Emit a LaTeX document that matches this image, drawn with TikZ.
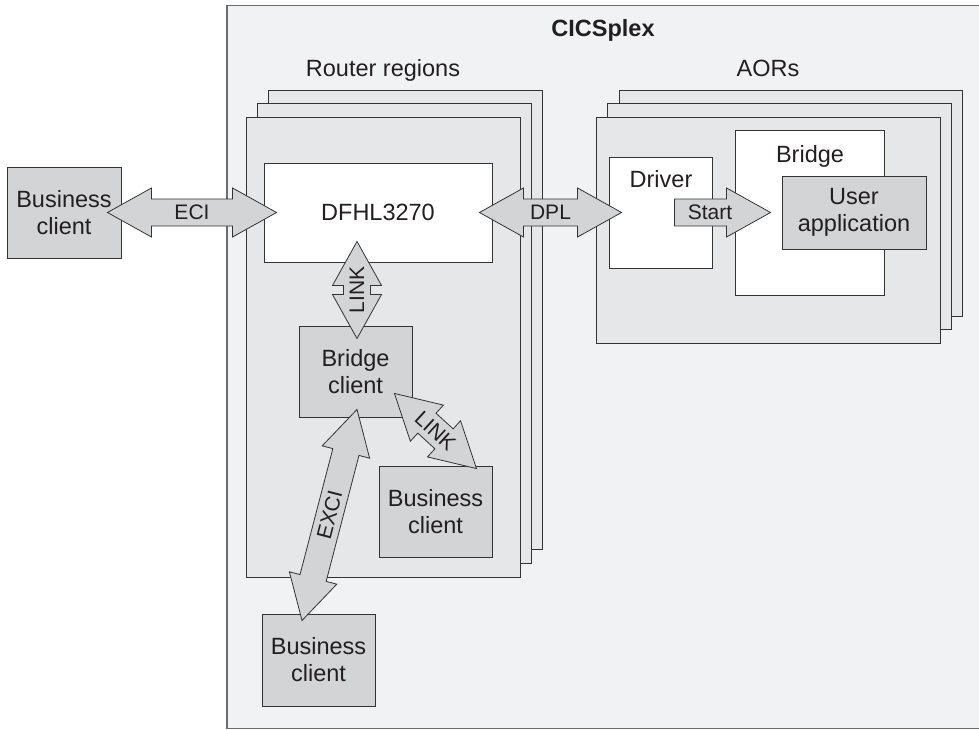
\documentclass[tikz,border=0pt]{standalone}
\usepackage{fontspec}
\setmainfont{Liberation Sans}
\usetikzlibrary{calc}
\definecolor{bgc}{HTML}{F1F2F4}
\definecolor{stackc}{HTML}{E6E7E9}
\definecolor{grayc}{HTML}{D3D4D6}
\definecolor{edge}{HTML}{333333}
\definecolor{outeredge}{HTML}{6B6B6B}
\definecolor{txt}{HTML}{231F20}
\newcommand\boxfont{\fontsize{23.5}{27}\selectfont}
\newcommand\arrfont{\fontsize{21}{24}\selectfont}
\tikzset{
  sz/.style 2 args={minimum width=#1, minimum height=#2},
  region/.style={draw=edge, line width=0.9pt, fill=stackc, inner sep=0pt},
  whitebox/.style={draw=edge, line width=0.9pt, fill=white, inner sep=0pt},
  graybox/.style={draw=edge, line width=0.9pt, fill=grayc, inner sep=0pt, align=center, font=\boxfont, text=txt},
  fatarrow/.style={draw=edge, line width=0.8pt, fill=grayc, line join=miter},
  arrlabel/.style={font=\arrfont, text=txt, inner sep=0pt},
  titletext/.style={font=\boxfont, text=txt, inner sep=0pt, anchor=base}
}
% double-headed fat arrow between two named points
\newcommand\dblarr[2]{%
  \filldraw[fatarrow] (#1)
    -- ($(#1)!44pt!(#2)!24.5pt!90:(#2)$)
    -- ($(#1)!44pt!(#2)!13.5pt!90:(#2)$)
    -- ($(#2)!44pt!(#1)!13.5pt!-90:(#1)$)
    -- ($(#2)!44pt!(#1)!24.5pt!-90:(#1)$)
    -- (#2)
    -- ($(#2)!44pt!(#1)!24.5pt!90:(#1)$)
    -- ($(#2)!44pt!(#1)!13.5pt!90:(#1)$)
    -- ($(#1)!44pt!(#2)!13.5pt!-90:(#2)$)
    -- ($(#1)!44pt!(#2)!24.5pt!-90:(#2)$)
    -- cycle;}
% single-headed fat arrow from #1 (tail) to #2 (tip)
\newcommand\sglarr[2]{%
  \filldraw[fatarrow] ($(#1)!13.5pt!90:(#2)$)
    -- ($(#2)!44pt!(#1)!13.5pt!-90:(#1)$)
    -- ($(#2)!44pt!(#1)!24.5pt!-90:(#1)$)
    -- (#2)
    -- ($(#2)!44pt!(#1)!24.5pt!90:(#1)$)
    -- ($(#2)!44pt!(#1)!13.5pt!90:(#1)$)
    -- ($(#1)!13.5pt!-90:(#2)$)
    -- cycle;}
\begin{document}
\begin{tikzpicture}[x=1pt,y=-1pt]
\useasboundingbox[fill=white] (0,0) rectangle (979,730);

% CICSplex frame
\node[draw=outeredge, line width=1.5pt, fill=bgc, inner sep=0pt, sz={758pt}{723pt}] (cicsplex) at (606,367) {};
\node[titletext, font=\boxfont\bfseries] (cicstitle) at (603,37) {CICSplex};

% Router regions stack
\node[titletext] (rrtitle) at (383,77) {Router regions};
\node[region, sz={274pt}{459pt}] (rr3) at (405,319.5) {};
\node[region, sz={274pt}{460pt}] (rr2) at (394,333) {};
\node[region, sz={274pt}{460pt}] (rr1) at (383,347) {};

% AOR stack
\node[titletext] (aortitle) at (768,77) {AORs};
\node[region, sz={343pt}{226pt}] (aor3) at (790.5,203) {};
\node[region, sz={344pt}{226pt}] (aor2) at (779,216) {};
\node[region, sz={344pt}{226pt}] (aor1) at (768,230) {};

% boxes
\node[whitebox, font=\boxfont, text=txt, sz={228pt}{99pt}] (dfh) at (378,212.5) {DFHL3270};
\node[graybox, sz={114pt}{91pt}] (bizL) at (64,212.5) {Business\\client};
\node[graybox, sz={113pt}{91pt}] (bcl) at (355.5,371.5) {Bridge\\client};
\node[graybox, sz={113pt}{91pt}] (biz2) at (435.5,511.5) {Business\\client};
\node[graybox, sz={113pt}{92pt}] (biz3) at (318.5,660) {Business\\client};

\node[whitebox, sz={103pt}{111pt}] (driver) at (660.5,212.5) {};
\node[titletext] (drivertxt) at (661,188) {Driver};
\node[whitebox, sz={149pt}{165pt}] (bridge) at (809.5,212.5) {};
\node[titletext] (bridgetxt) at (810,163) {Bridge};
\node[graybox, sz={144pt}{73pt}] (userapp) at (854,212.5) {User\\application};

% connector end points
\coordinate (eciA) at ($(bizL.east)+(-14,0)$);
\coordinate (eciB) at ($(dfh.west)+(13,0)$);
\coordinate (dplA) at ($(dfh.east)+(-13,0)$);
\coordinate (dplB) at ($(driver.west)+(13,0)$);
\coordinate (stA) at ($(driver.east)+(-38,0)$);
\coordinate (stB) at ($(bridge.west)+(36,0)$);
\coordinate (lvA) at ($(bcl.north |- dfh.south)+(1.5,-21)$);
\coordinate (lvB) at ($(bcl.north)+(1.5,13)$);
\coordinate (ldA) at ($(bcl.south east)+(-18,-24)$);
\coordinate (ldB) at ($(biz2.north east)+(-16,3)$);
\coordinate (exA) at ($(bcl.south)+(1.5,-8)$);
\coordinate (exB) at ($(biz3.north)+(-16.5,7)$);

% fat arrows
\dblarr{eciA}{eciB}
\path (eciA) -- node[arrlabel] (ecilbl) {ECI} (eciB);
\dblarr{dplA}{dplB}
\path (dplA) -- node[arrlabel] (dpllbl) {DPL} (dplB);
\sglarr{stA}{stB}
\path (stA) -- node[arrlabel, pos=0.37] (stlbl) {Start} (stB);
\dblarr{lvA}{lvB}
\path (lvB) -- node[arrlabel, sloped] (lvlbl) {LINK} (lvA);
\dblarr{ldA}{ldB}
\path (ldA) -- node[arrlabel, sloped] (ldlbl) {LINK} (ldB);
\dblarr{exA}{exB}
\path (exB) -- node[arrlabel, sloped] (exlbl) {EXCI} (exA);
\end{tikzpicture}
\end{document}
